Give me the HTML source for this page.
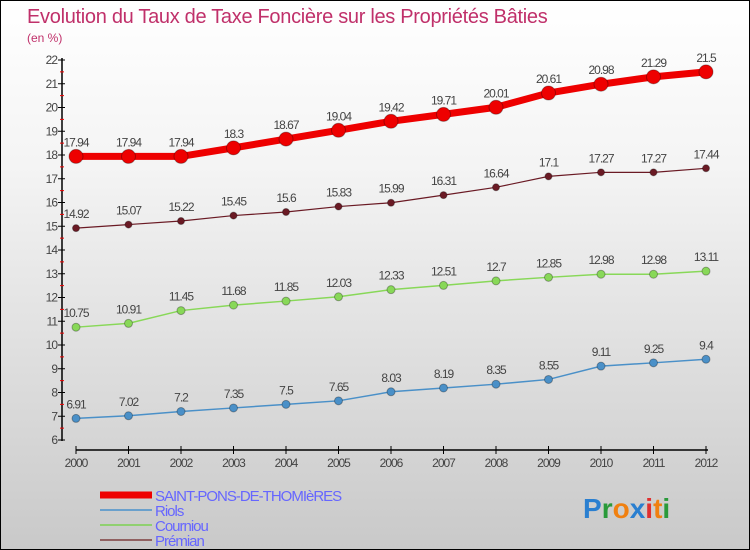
<!DOCTYPE html>
<html><head><meta charset="utf-8"><style>
body{margin:0}
#c{width:748px;height:548px;border:1px solid #000;background:linear-gradient(#ffffff,#f4f4f4 30%,#c9c9c9);position:relative;font-family:"Liberation Sans",sans-serif;overflow:hidden}
text{font-family:"Liberation Sans",sans-serif}
</style></head><body>
<div id="c">
<svg id="s" width="748" height="548">
<text x="26" y="22" font-size="20" fill="#c0306a" letter-spacing="-0.3">Evolution du Taux de Taxe Foncière sur les Propriétés Bâties</text>
<text x="26" y="41" font-size="12" fill="#c0306a">(en %)</text>
</svg>
</div>
<script>
const years=[2000,2001,2002,2003,2004,2005,2006,2007,2008,2009,2010,2011,2012];
const saint=[17.94,17.94,17.94,18.3,18.67,19.04,19.42,19.71,20.01,20.61,20.98,21.29,21.5];
const riols=[6.91,7.02,7.2,7.35,7.5,7.65,8.03,8.19,8.35,8.55,9.11,9.25,9.4];
const courniou=[10.75,10.91,11.45,11.68,11.85,12.03,12.33,12.51,12.7,12.85,12.98,12.98,13.11];
const premian=[14.92,15.07,15.22,15.45,15.6,15.83,15.99,16.31,16.64,17.1,17.27,17.27,17.44];
const yTicks=[6,7,8,9,10,11,12,13,14,15,16,17,18,19,20,21,22];
const s=document.getElementById('s');const NS='http://www.w3.org/2000/svg';
const X=i=>75+i*52.5, Y=v=>439-(v-6)*23.75;
function el(t,a,p){const e=document.createElementNS(NS,t);for(const k in a)e.setAttribute(k,a[k]);(p||s).appendChild(e);return e;}
let ax=el('line',{x1:61,y1:57,x2:61,y2:440,stroke:'#000','stroke-width':1.5});


let bx=el('line',{x1:75,y1:449,x2:707,y2:449,stroke:'#000','stroke-width':1.5});


yTicks.forEach(v=>{el('line',{x1:57,y1:Y(v),x2:64,y2:Y(v),stroke:'#000'});
 if(v<22)el('line',{x1:59,y1:Y(v+0.5),x2:63,y2:Y(v+0.5),stroke:'#e00'});
 const t=el('text',{x:56,y:Y(v)+4,'font-size':12,fill:'#444','text-anchor':'end','letter-spacing':'-1'});t.textContent=v;
 
 });
years.forEach((y,i)=>{el('line',{x1:X(i),y1:445,x2:X(i),y2:453,stroke:'#000'});
 const t=el('text',{x:X(i),y:466,'font-size':12,fill:'#444','text-anchor':'middle','letter-spacing':'-1'});t.textContent=y;
 
 });
function series(d,col,w,r,name){
 const g=el('g',{});
 
 
 el('polyline',{points:d.map((v,i)=>X(i)+','+Y(v)).join(' '),fill:'none',stroke:col,'stroke-width':w},g);
 d.forEach((v,i)=>{const c=el('circle',{cx:X(i),cy:Y(v),r:r,fill:col,stroke:'rgba(0,0,0,0.3)','stroke-width':1},g);
  
  
  const t=el('text',{x:X(i),y:Y(v)-10,'font-size':12,fill:'#444','text-anchor':'middle','letter-spacing':'-1'},g);t.textContent=v;});
}
series(riols,'#4a90c8',1.5,4,'series-riols');
series(courniou,'#88d858',1.5,4,'series-courniou');
series(premian,'#6a1a24',1.2,3.5,'series-premian');
series(saint,'#ee0000',7,7,'series-saint-pons');
const leg=[['SAINT-PONS-DE-THOMIèRES','#ee0000',7],['Riols','#6aa0cc',2],['Courniou','#90d070',2],['Prémian','#906060',2]];
leg.forEach((l,i)=>{const y=494+i*15;
 const g=el('g',{});
 
 
 el('line',{x1:99,y1:y,x2:151,y2:y,stroke:l[1],'stroke-width':l[2]},g);
 const t=el('text',{x:154,y:y+6,'font-size':15,fill:'#6666ff','letter-spacing':'-1'},g);t.textContent=l[0];});
const logo=el('text',{x:582,y:517,'font-size':28,'font-weight':'bold'});


[['P','#2a7fd0'],['r','#2a9a3a'],['o','#f08010'],['x','#2a7fd0'],['i','#e03030'],['t','#f08010'],['i','#2a9a3a']].forEach(p=>{const ts=el('tspan',{fill:p[1]},logo);ts.textContent=p[0];});
</script>
</body></html>
